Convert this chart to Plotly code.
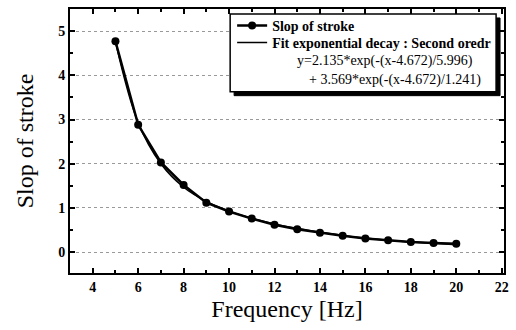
import plotly.graph_objects as go

freq = [5, 6, 7, 8, 9, 10, 11, 12, 13, 14, 15, 16, 17, 18, 19, 20]
slope = [4.77, 2.88, 2.03, 1.52, 1.12, 0.92, 0.76, 0.62, 0.52, 0.44, 0.37, 0.31, 0.27, 0.23, 0.21, 0.19]
fit = [4.76, 2.93, 2.00, 1.47, 1.15, 0.93, 0.77, 0.64, 0.54, 0.45, 0.38, 0.32, 0.27, 0.23, 0.20, 0.17]

series_name = "Slop of stroke"
fit_name = "Fit exponential decay : Second oredr"
eq1 = "y=2.135*exp(-(x-4.672)/5.996)"
eq2 = "+ 3.569*exp(-(x-4.672)/1.241)"

serif = "Times New Roman, Liberation Serif, serif"

fig = go.Figure()
fig.add_trace(go.Scatter(x=freq, y=slope, mode="lines+markers", name=series_name,
                         line=dict(color="black", width=2.5), showlegend=True,
                         marker=dict(color="black", size=8, symbol="circle"), legend="legend"))
fig.add_trace(go.Scatter(x=freq, y=fit, mode="lines", name=fit_name, showlegend=True,
                         line=dict(color="black", width=1.5, shape="spline"), legend="legend2"))

W, H = 516, 330
L, R, T, B = 70, 7, 8, 57
pw, ph = W - L - R, H - T - B

def px(x):
    return (x - L) / pw

def py(y):
    return (H - B - y) / ph

shapes = [
    dict(type="rect", xref="paper", yref="paper", x0=px(236), x1=px(505), y0=py(95), y1=py(17),
         fillcolor="black", line=dict(color="black", width=1), layer="above"),
    dict(type="rect", xref="paper", yref="paper", x0=px(232), x1=px(501), y0=py(91), y1=py(13),
         fillcolor="white", line=dict(color="black", width=1.5), layer="above"),
]

annotations = [
    dict(text=eq1, xref="paper", yref="paper", x=px(389), y=py(60), xanchor="center", yanchor="middle",
         showarrow=False, font=dict(family=serif, size=14, color="black")),
    dict(text=eq2, xref="paper", yref="paper", x=px(399), y=py(79), xanchor="center", yanchor="middle",
         showarrow=False, font=dict(family=serif, size=14, color="black")),
]

legfont = dict(family=serif, size=14, color="black", weight="bold")

fig.update_layout(
    width=W, height=H,
    margin=dict(l=L, r=R, t=T, b=B),
    paper_bgcolor="white", plot_bgcolor="white",
    font=dict(family=serif, color="black"),
    showlegend=True,
    shapes=shapes, annotations=annotations,
    legend=dict(x=px(234), y=py(25), xanchor="left", yanchor="middle", visible=True,
                bgcolor="rgba(0,0,0,0)", borderwidth=0, font=legfont, itemwidth=30),
    legend2=dict(x=px(234), y=py(42), xanchor="left", yanchor="middle", visible=True,
                 bgcolor="rgba(0,0,0,0)", borderwidth=0, font=legfont, itemwidth=30),
    xaxis=dict(range=[3, 22.1], dtick=2, tick0=0, showgrid=False, zeroline=False,
               showline=True, linecolor="black", linewidth=2, mirror="ticks",
               ticks="inside", ticklen=5, tickwidth=1.5, tickcolor="black",
               minor=dict(dtick=1, ticks="inside", ticklen=3, tickcolor="black", showgrid=False),
               tickfont=dict(family=serif, size=14, weight="bold"), ticklabelstandoff=0,
               title=dict(text="Frequency [Hz]", font=dict(family=serif, size=24), standoff=6)),
    yaxis=dict(range=[-0.47, 5.5], dtick=1, tick0=0, showgrid=True, gridcolor="#999999",
               griddash="dot", gridwidth=1, zeroline=False,
               showline=True, linecolor="black", linewidth=2, mirror="ticks",
               ticks="inside", ticklen=5, tickwidth=1.5, tickcolor="black",
               minor=dict(dtick=0.5, ticks="inside", ticklen=3, tickcolor="black", showgrid=False),
               tickfont=dict(family=serif, size=14, weight="bold"),
               title=dict(text="Slop of stroke", font=dict(family=serif, size=24), standoff=18)),
)

fig.write_html("out.html")
